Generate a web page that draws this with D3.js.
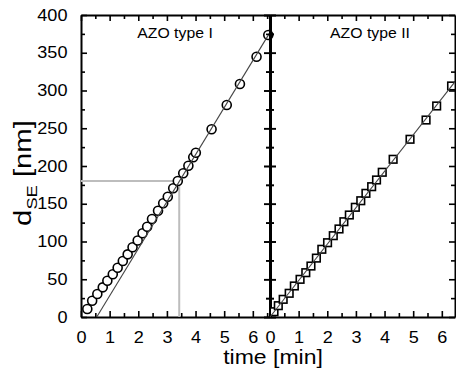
<!DOCTYPE html>
<html><head><meta charset="utf-8">
<script src="https://cdn.jsdelivr.net/npm/d3@7"></script>
<style>
html,body{margin:0;padding:0;background:#fff;}
svg{display:block;font-family:"Liberation Sans",Arial,sans-serif;}
</style></head>
<body><svg id="c" width="456" height="368"></svg>
<script>
// ---- data ----
const panelTitles = ["AZO type I", "AZO type II"];
const typeI_time = [0.22,0.39,0.57,0.76,0.92,1.11,1.28,1.46,1.63,1.80,1.98,2.15,2.31,2.48,2.69,2.87,3.03,3.22,3.38,3.57,3.75,3.92,4.01,4.56,5.09,5.55,6.13,6.54];
const typeI_d    = [10.6,21.6,30.5,39.3,48.1,56.6,65.3,74.2,83.0,92.3,101.3,110.9,119.6,129.8,140.8,150.6,159.3,170.5,180.1,190.3,200.4,211.5,217.6,248.6,280.8,308.6,344.8,373.5];
const typeII_time = [0.14,0.29,0.46,0.67,0.85,1.05,1.25,1.43,1.62,1.81,2.01,2.21,2.41,2.58,2.77,2.98,3.17,3.35,3.55,3.72,3.92,4.30,4.89,5.45,5.82,6.34];
const typeII_d    = [7.0,15.0,23.4,31.4,41.1,49.9,58.7,67.5,78.0,89.7,98.4,107.7,116.6,126.2,135.1,145.3,154.0,163.8,172.6,181.5,191.7,208.9,235.4,260.9,279.5,306];
const fitI_time = [0.55, 6.6];
const fitI_d    = [0, 377];
const fitII_time = [0, 6.45];
const fitII_d    = [0, 311];
const guideTime = 3.43;
const guideD = 180;
const xTickLabels = [0,1,2,3,4,5,6];
const yTickLabels = [0,50,100,150,200,250,300,350,400];

// ---- layout ----
const svg = d3.select("#c");
const pTop = 15, pBottom = 317, pLeft = 81, pMid = 270, pRight = 455;
const SX = 1.13; // horizontal text stretch seen in the reference
const y = d3.scaleLinear().domain([0,400]).range([pBottom, pTop]);
const x1 = d3.scaleLinear().domain([0,6.6]).range([pLeft, pMid]);
const x2 = d3.scaleLinear().domain([0,(pRight-pMid)/((pMid-pLeft)/6.6)]).range([pMid, pRight]);

const minorX = d3.range(0, 7, 0.5);
const minorY = d3.range(0, 401, 25);

function styleAxis(g, w){
  g.select(".domain").attr("stroke","#000").attr("stroke-width",w||2);
  g.selectAll(".tick line").attr("stroke","#000").attr("stroke-width",1.6);
  g.selectAll("text").attr("font-size",16).attr("fill","#000")
   .attr("font-family",'"Liberation Sans",Arial,sans-serif')
   .attr("transform",`scale(${SX},1)`);
}
function isMajor(v, step){ return Math.abs(v/step - Math.round(v/step))<1e-6; }

function drawPanel(x, tdata, ddata, ftime, fd, title, titleX, isLeft){
  const maxT = x.domain()[1];
  const tv = minorX.filter(v=>v<=maxT+1e-6);
  // bottom
  const gb = svg.append("g").attr("transform",`translate(0,${pBottom})`)
    .call(d3.axisBottom(x).tickValues(tv).tickSizeOuter(0).tickPadding(8.5)
      .tickFormat(v=> (isMajor(v,1) && xTickLabels.includes(Math.round(v))) ? d3.format("d")(v) : ""));
  gb.selectAll(".tick line").attr("y2", d=> isMajor(d,1) ? -6 : -4);
  styleAxis(gb);
  // top
  const gt = svg.append("g").attr("transform",`translate(0,${pTop})`)
    .call(d3.axisTop(x).tickValues(tv).tickSizeOuter(0).tickFormat(""));
  gt.selectAll(".tick line").attr("y2", d=> isMajor(d,1) ? 6 : 4);
  styleAxis(gt);

  // left side axis
  const gl = svg.append("g").attr("transform",`translate(${x.range()[0]},0)`)
    .call(d3.axisLeft(y).tickValues(minorY).tickSizeOuter(0).tickPadding(6)
      .tickFormat(v=> (isLeft && yTickLabels.includes(v)) ? d3.format("d")(v) : ""));
  gl.selectAll(".tick line")
    .attr("x1", d=> isLeft ? 0 : -(isMajor(d,50)?6:4))
    .attr("x2", d=> isMajor(d,50) ? 6 : 4);
  styleAxis(gl, isLeft?2:3);
  // right side axis
  const gr = svg.append("g").attr("transform",`translate(${x.range()[1]},0)`)
    .call(d3.axisRight(y).tickValues(minorY).tickSizeOuter(0).tickFormat(""));
  gr.selectAll(".tick line")
    .attr("x1", d=> isLeft ? (isMajor(d,50)?6:4) : 0)
    .attr("x2", d=> -(isMajor(d,50) ? 6 : 4));
  styleAxis(gr, isLeft?3:2);

  const plot = svg.append("g");
  if(isLeft){
    plot.append("path")
      .attr("d", d3.line()([[x(0),y(guideD)],[x(guideTime),y(guideD)],[x(guideTime),y(0)]]))
      .attr("fill","none").attr("stroke","#bdbdbd").attr("stroke-width",2);
  }
  const pts = tdata.map((t,i)=>[t, ddata[i]]);
  if(isLeft){
    plot.selectAll("circle.m").data(pts).join("circle")
      .attr("cx",d=>x(d[0])).attr("cy",d=>y(d[1])).attr("r",4.5)
      .attr("fill","#fff").attr("stroke","#000").attr("stroke-width",1.6);
  } else {
    const s = 7.6;
    plot.selectAll("rect.m").data(pts).join("rect")
      .attr("x",d=>x(d[0])-s/2).attr("y",d=>y(d[1])-s/2).attr("width",s).attr("height",s)
      .attr("fill","#fff").attr("stroke","#000").attr("stroke-width",1.6);
  }
  plot.append("path")
    .attr("d", d3.line().x(d=>x(d[0])).y(d=>y(d[1]))(ftime.map((t,i)=>[t,fd[i]])))
    .attr("fill","none").attr("stroke","#444").attr("stroke-width",1.1);

  svg.append("text").attr("transform",`translate(${titleX},38) scale(${SX},1)`)
    .attr("text-anchor","middle").attr("font-size",14).attr("fill","#000").text(title);
}

drawPanel(x1, typeI_time, typeI_d, fitI_time, fitI_d, panelTitles[0], 175, true);
drawPanel(x2, typeII_time, typeII_d, fitII_time, fitII_d, panelTitles[1], 370, false);

// axis titles
svg.append("text").attr("transform",`translate(273,364) scale(1.15,1)`).attr("text-anchor","middle")
  .attr("font-size",20).attr("fill","#000").text("time [min]");
const yt = svg.append("text").attr("transform","translate(31,173) rotate(-90) scale(1.22,1)")
  .attr("text-anchor","middle").attr("font-size",24).attr("fill","#000");
yt.append("tspan").text("d");
yt.append("tspan").attr("font-size",15).attr("dy",6).text("SE");
yt.append("tspan").attr("dy",-6).text(" [nm]");
</script></body></html>
